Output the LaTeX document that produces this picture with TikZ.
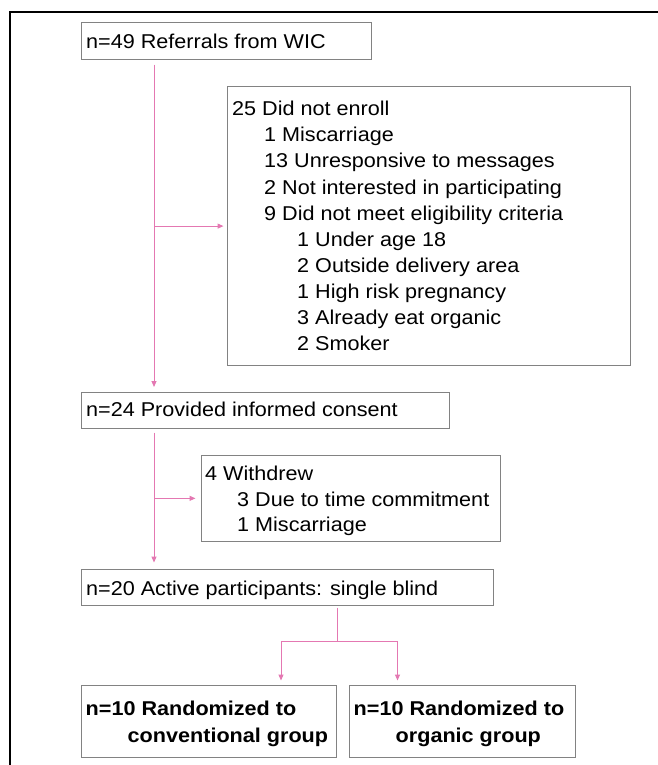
\documentclass[tikz,border=0pt]{standalone}
\usepackage{fontspec}
\setmainfont{Liberation Sans}[FakeStretch=1.08]
\usetikzlibrary{arrows.meta}
\definecolor{pinkline}{RGB}{228,120,178}
\definecolor{boxgray}{RGB}{130,130,130}
\begin{document}
\begin{tikzpicture}[x=1pt,y=-1pt,
  box/.style={draw=boxgray, line width=1.2pt, inner sep=0pt, anchor=north west, rectangle},
  txt/.style={anchor=base west, inner sep=0pt, font=\fontsize{20}{24}\selectfont},
  btxt/.style={txt, font=\fontsize{20}{24}\selectfont\bfseries},
  conn/.style={draw=pinkline, line width=1pt},
  arr/.style={conn, -{Triangle[length=6pt,width=5pt]}}]
\useasboundingbox (0,0) rectangle (657,765);
\fill[white] (0,0) rectangle (657,765);
% outer frame
\draw[line width=1.4pt, line cap=rect] (662,12) -- (10,12) -- (10,770);
% boxes
\node[box, minimum width=290pt, minimum height=37pt] (b1) at (81,22) {};
\node[box, minimum width=403pt, minimum height=279pt] (b2) at (227,86) {};
\node[box, minimum width=368pt, minimum height=36pt] (b3) at (81,392) {};
\node[box, minimum width=299.5pt, minimum height=85.5pt] (b4) at (200.5,455) {};
\node[box, minimum width=412pt, minimum height=36pt] (b5) at (81,568.5) {};
\node[box, minimum width=255.5pt, minimum height=72pt] (b6) at (80.5,685) {};
\node[box, minimum width=225.5pt, minimum height=72pt] (b7) at (349,685) {};
% texts
\node[txt] (t1) at (86,48.3) {n=49 Referrals from WIC};
\node[txt] (t2a) at (232,115.7) {25 Did not enroll};
\node[txt] (t2b) at (264,141.8) {1 Miscarriage};
\node[txt] (t2c) at (264,167.9) {13 Unresponsive to messages};
\node[txt] (t2d) at (264,194.0) {2 Not interested in participating};
\node[txt] (t2e) at (264,220.1) {9 Did not meet eligibility criteria};
\node[txt] (t2f) at (297,246.2) {1 Under age 18};
\node[txt] (t2g) at (297,272.3) {2 Outside delivery area};
\node[txt] (t2h) at (297,298.4) {1 High risk pregnancy};
\node[txt] (t2i) at (297,324.5) {3 Already eat organic};
\node[txt] (t2j) at (297,350.6) {2 Smoker};
\node[txt] (t3) at (86,416.7) {n=24 Provided informed consent};
\node[txt] (t4a) at (205,480) {4 Withdrew};
\node[txt] (t4b) at (237,506) {3 Due to time commitment};
\node[txt] (t4c) at (237,531.7) {1 Miscarriage};
\node[txt] (t5) at (86,595) {n=20 Active participants: single blind};
\node[btxt] (t6a) at (85.5,715.7) {n=10 Randomized to};
\node[btxt] (t6b) at (127.5,742) {conventional group};
\node[btxt] (t7a) at (353.5,715.7) {n=10 Randomized to};
\node[btxt] (t7b) at (395.5,742) {organic group};
% connectors
\coordinate (v1s) at ([xshift=73pt,yshift=-4.5pt]b1.south west);
\coordinate (v1e) at ([xshift=73pt,yshift=5pt]b3.north west);
\draw[arr] (v1s) -- (v1e);
\draw[arr] (v1s |- b2.west) -- ([xshift=-3.5pt]b2.west);
\coordinate (v2s) at ([xshift=73pt,yshift=-3.5pt]b3.south west);
\coordinate (v2e) at ([xshift=73pt,yshift=6pt]b5.north west);
\draw[arr] (v2s) -- (v2e);
\draw[arr] (v2s |- b4.west) -- ([xshift=-5pt]b4.west);
\coordinate (s0) at ([xshift=256pt,yshift=-2pt]b5.south west);
\coordinate (sj) at ([yshift=-34pt]s0);
\coordinate (a6) at ([xshift=200.5pt,yshift=4.5pt]b6.north west);
\coordinate (a7) at ([xshift=48.5pt,yshift=4.5pt]b7.north west);
\draw[conn] (s0) -- (sj);
\draw[arr] (sj) -| (a6);
\draw[arr] (sj) -| (a7);
\end{tikzpicture}
\end{document}
